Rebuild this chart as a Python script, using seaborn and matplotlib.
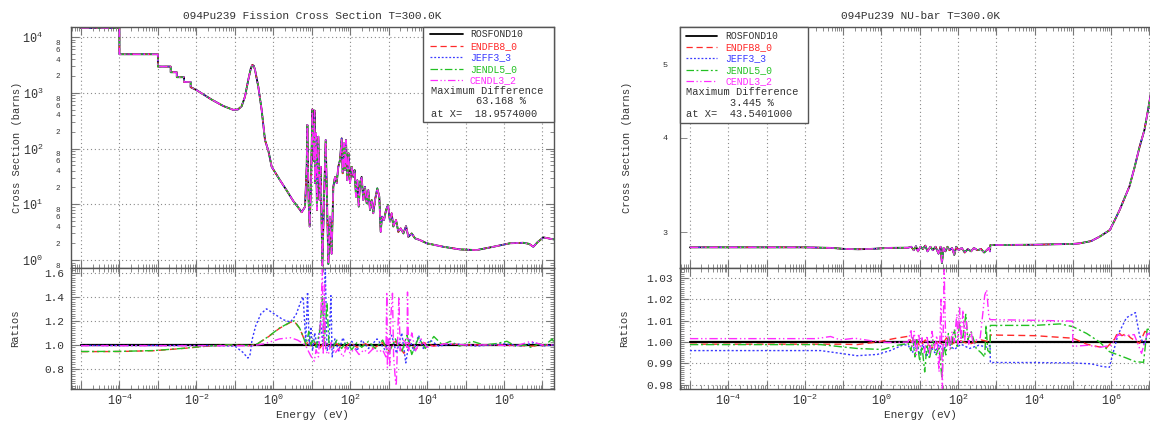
import numpy as np
import matplotlib
matplotlib.use("Agg")
import matplotlib.pyplot as plt
import seaborn as sns
from matplotlib.ticker import (LogLocator, FixedLocator, FuncFormatter,
                               MultipleLocator, NullLocator, NullFormatter, FormatStrFormatter)
from matplotlib.lines import Line2D
from matplotlib.patches import Rectangle

# ---------------- data ----------------
LIBS = ["ROSFOND10", "ENDFB8_0", "JEFF3_3", "JENDL5_0", "CENDL3_2"]
COLORS = ["#000000", "#ff2a2a", "#3a3aff", "#22c022", "#ff2aff"]
STYLES = ["-", (0, (5, 3)), (0, (1.5, 1.5)), (0, (6, 2, 1.5, 2)), (0, (6, 2, 1, 2, 1, 2))]

# Fission cross section (ROSFOND10 reference)
XS_E = [1e-5, 1e-4, 1e-4, 1e-3, 1e-3, 2.15e-3, 2.15e-3, 3.1e-3, 3.1e-3, 4.8e-3, 4.8e-3,
        7.1e-3, 7.1e-3, 1.0e-2, 2.53e-2, 5.0e-2, 9.0e-2, 0.12, 0.15, 0.184, 0.224, 0.26,
        0.285, 0.31, 0.335, 0.408, 0.5, 0.61, 0.75, 0.91, 1.5, 2.2, 3.3, 5.0, 5.48, 6.7,
        7.4, 7.7, 8.3, 8.85, 9.6, 10.4, 10.9, 11.3, 11.9, 12.2, 12.9, 13.7, 14.9, 16.1,
        17.1, 18.9, 20.9, 23.1, 25.0, 27.1, 29.9, 33.0, 36.5, 40.4, 44.6, 49.2, 54.4, 60.1,
        63.8, 69.2, 73.4, 78.0, 84.4, 91.4, 99.0, 110, 121, 131, 142, 154, 167, 180, 199,
        220, 243, 269, 297, 328, 363, 400, 442, 508, 573, 622, 673, 759, 857, 966, 1087,
        1200, 1325, 1560, 1790, 2060, 2420, 2840, 3260, 3980, 4860, 6560, 9770, 2.65e4,
        7.19e4, 1.95e5, 5.3e5, 1.44e6, 3.2e6, 4.5e6, 5.8e6, 7.5e6, 1.06e7, 1.92e7, 2.0e7]
XS_ROSFOND = [14500, 14500, 4900, 4900, 2950, 2950, 2330, 2330, 1900, 1900, 1560,
              1560, 1260, 1120, 750, 580, 495, 500, 570, 850, 1700, 2700,
              3150, 3050, 2600, 1290, 490, 142, 90, 47, 27, 18, 11.5, 7.9, 7.2, 9.0,
              47, 265, 12, 4.0, 24, 504, 120, 60, 480, 24, 187, 7.9, 163, 11.9,
              47, 0.8, 12, 142, 12, 0.85, 6.0, 1.3, 20.6, 31, 24, 47, 62, 152,
              36, 124, 41, 142, 27, 82, 24, 47, 31, 41, 13.7, 27, 9.1, 24, 31,
              11.9, 20.6, 10.4, 18, 7.9, 11.9, 6.9, 11.9, 19.3, 13.7, 3.2, 6.0, 5.2, 7.9, 9.7, 4.9,
              6.9, 4.0, 5.2, 3.2, 3.7, 3.0, 4.07, 2.6, 3.0, 2.45, 2.28, 2.0, 1.73,
              1.55, 1.51, 1.73, 2.0, 2.04, 1.95, 1.73, 2.1, 2.55, 2.35, 2.35]

# Fission ratios to ROSFOND10
REF_E = [1e-5, 2e7]
REF_RATIO = [1.0, 1.0]

FR_ENDF_E = [1e-5, 1e-4, 8e-4, 4.7e-3, 1.8e-2, 6.6e-2, 0.25, 0.39, 0.75, 1.45, 2.8, 3.5, 4.85,
             6.0, 7.1, 8.4, 9.5, 12, 16, 22, 30, 45, 70, 100, 150, 250, 400, 700, 1000, 1500,
             2500, 3500, 5000, 8000, 1.5e4, 3e4, 1e5, 1e6, 5e6, 2e7]
FR_ENDF = [0.944, 0.945, 0.952, 0.971, 0.989, 0.999, 0.994, 1.008, 1.068, 1.138, 1.188, 1.198, 1.138,
           1.068, 0.995, 1.05, 0.98, 1.02, 0.97, 1.03, 0.98, 1.01, 0.97, 1.02, 0.98, 1.01, 0.97, 1.02,
           0.95, 1.03, 0.93, 1.02, 0.96, 1.02, 0.99, 1.01, 1.0, 1.0, 0.99, 1.0]

FR_JEFF_E = [1e-5, 1e-2, 0.05, 0.1, 0.16, 0.22, 0.25, 0.28, 0.35, 0.48, 0.67, 1.04, 1.8, 2.8,
             3.9, 5.2, 6.0, 7.0, 7.8, 8.6, 9.5, 10.5, 12, 14, 17, 19.5, 22.6, 25, 28, 31.6, 34,
             40, 50, 65, 85, 110, 150, 200, 300, 500, 800, 1200, 1600, 2200, 2800, 3500, 4500,
             6000, 8000, 1.2e4, 2e4, 5e4, 2e5, 1e6, 3e6, 6e6, 1e7, 2e7]
FR_JEFF = [0.995, 0.995, 0.993, 0.99, 0.94, 0.89, 0.92, 1.04, 1.16, 1.26, 1.30, 1.26, 1.21, 1.19,
           1.25, 1.36, 1.40, 1.02, 1.44, 1.0, 1.15, 0.95, 1.1, 0.97, 1.2, 1.0, 1.63, 0.95, 1.0, 1.41, 0.90,
           1.05, 0.95, 1.06, 0.96, 1.03, 0.95, 1.04, 0.97, 1.05, 0.96, 1.08, 0.93, 1.1, 0.85, 1.05, 0.95,
           1.08, 0.97, 1.04, 0.99, 1.01, 0.99, 1.01, 0.99, 1.02, 0.99, 1.0]

FR_JENDL_E = [1e-5, 1e-4, 8e-4, 4.7e-3, 1.8e-2, 6.6e-2, 0.25, 0.39, 0.75, 1.45, 2.8, 3.5, 4.85,
              6.0, 7.1, 8.4, 9.5, 11, 13, 16, 19, 21, 25, 28, 35, 45, 60, 80, 110, 150, 200, 300,
              450, 700, 1000, 1500, 2200, 3000, 4000, 6000, 9000, 1.5e4, 2.5e4, 4e4, 7e4, 1.5e5,
              3e5, 6e5, 1.2e6, 2e6, 3.5e6, 5e6, 8e6, 1.2e7, 1.8e7, 2e7]
FR_JENDL = [0.945, 0.946, 0.953, 0.972, 0.99, 1.0, 0.995, 1.01, 1.07, 1.14, 1.19, 1.20, 1.14,
            1.07, 1.0, 1.11, 1.0, 1.05, 0.98, 1.1, 1.40, 1.0, 1.35, 1.02, 0.97, 1.04, 0.97, 1.03,
            0.96, 1.02, 0.98, 1.03, 0.97, 1.04, 0.93, 1.05, 0.94, 1.08, 0.92, 1.06, 0.97, 1.07,
            1.0, 1.03, 0.99, 1.03, 1.0, 1.01, 1.03, 0.99, 1.0, 0.98, 1.01, 1.0, 1.05, 1.02]

FR_CENDL_E = [1e-5, 0.3, 0.6, 1.45, 2.8, 4.3, 6.8, 9.4, 11.7, 13, 15, 17, 18.96, 20, 21.5, 23,
              27, 32, 40, 50, 65, 80, 100, 130, 170, 230, 300, 400, 550, 700, 850, 897, 930,
              1000, 1080, 1120, 1260, 1350, 1500, 1580, 1700, 1850, 2000, 2500, 3000, 3100,
              3300, 4000, 5000, 7000, 1e4, 3e4, 1e5, 5e5, 2e6, 5e6, 1e7, 2e7]
FR_CENDL = [0.993, 0.993, 1.01, 1.05, 1.06, 1.04, 1.0, 0.91, 0.865, 0.96, 0.9, 1.2, 1.63, 0.92, 1.5,
            0.95, 0.92, 1.02, 0.93, 0.97, 0.9, 0.98, 0.93, 0.97, 0.92, 0.96, 0.93, 0.97, 0.94, 0.96,
            0.9, 1.44, 0.81, 1.05, 0.83, 1.2, 1.43, 0.9, 0.71, 0.66, 1.0, 1.40, 0.95, 1.05, 0.98,
            1.44, 0.95, 1.1, 0.95, 1.05, 0.98, 1.01, 1.0, 1.0, 0.99, 1.03, 1.0, 1.0]

# NU-bar (ROSFOND10 reference)
NU_E = [1e-5, 0.01, 0.05, 0.1, 0.25, 0.6, 1.5, 5, 6, 7, 8, 9, 10.5, 12, 14, 16, 19, 22, 26, 31,
        35, 38, 42, 47, 53, 60, 70, 80, 90, 105, 125, 150, 180, 220, 260, 320, 400, 480, 560,
        640, 686, 700, 1e4, 1e5, 1.5e5, 3e5, 5e5, 9.2e5, 1.23e6, 1.66e6, 2.24e6, 3.0e6, 4.1e6,
        5.5e6, 7.4e6, 9.5e6, 1.4e7, 2e7]
NU_ROSFOND = [2.865, 2.865, 2.86, 2.852, 2.848, 2.852, 2.86, 2.862, 2.87, 2.84, 2.875, 2.83, 2.87,
              2.85, 2.88, 2.83, 2.87, 2.84, 2.87, 2.81, 2.87, 2.73, 2.86, 2.83, 2.87, 2.84, 2.86,
              2.80, 2.87, 2.84, 2.86, 2.82, 2.85, 2.83, 2.86, 2.84, 2.85, 2.82, 2.84, 2.86, 2.83,
              2.885, 2.888, 2.895, 2.90, 2.92, 2.96, 3.02, 3.11, 3.21, 3.33, 3.45, 3.66, 3.89,
              4.10, 4.40, 4.95, 5.55]

# NU-bar ratios to ROSFOND10
NR_ENDF_E = [1e-5, 0.1, 0.23, 0.78, 2.1, 5.0, 6.0, 8, 10, 14, 20, 30, 40, 50, 70, 100, 200, 400,
             686, 700, 1e4, 1e5, 2.3e5, 4.6e5, 7.6e5, 1.23e6, 1.5e6, 1.9e6, 2.5e6, 3.2e6, 5.5e6,
             7.6e6, 2e7]
NR_ENDF = [0.999, 0.999, 0.9988, 1.0, 1.0016, 1.0027, 1.0, 1.002, 0.998, 1.001, 0.997, 1.0, 0.999,
           1.002, 0.999, 1.001, 0.999, 1.001, 1.0, 1.0033, 1.003, 1.0018, 0.999, 0.9978, 0.9974,
           1.0014, 1.0048, 1.003, 1.004, 1.002, 0.9994, 1.005, 1.002]

NR_JEFF_E = [1e-5, 0.026, 0.23, 0.78, 1.7, 3.8, 5.0, 6.5, 8, 10, 12, 15, 19, 25, 32, 40, 55, 80,
             120, 200, 350, 600, 686, 700, 1e4, 1e5, 3e5, 6e5, 9e5, 1.0e6, 1.5e6, 2.5e6, 4.3e6,
             5.5e6, 7.4e6, 9e6, 2e7]
NR_JEFF = [0.996, 0.996, 0.9936, 0.9942, 0.996, 0.9988, 0.9985, 0.995, 1.001, 0.994, 0.999, 0.993,
           0.998, 0.995, 0.999, 0.996, 0.9995, 0.9965, 0.999, 0.997, 0.9985, 0.9975, 0.9985, 0.9904,
           0.9904, 0.9902, 0.9898, 0.9885, 0.9882, 0.9915, 1.0034, 1.0114, 1.0138, 1.003, 0.9985,
           1.0045, 1.002]

NR_JENDL_E = [1e-5, 0.026, 0.23, 1.1, 2.6, 5.0, 5.9, 6.6, 7.5, 8.5, 10, 11.5, 13.5, 15.5, 18, 22,
              27, 32, 38, 42, 48, 56, 65, 80, 95, 110, 130, 160, 180, 220, 300, 400, 500, 540,
              600, 686, 700, 1e4, 4.6e4, 1e5, 2.3e5, 5e5, 9e5, 2.5e6, 4.3e6, 7e6, 8.7e6, 2e7]
NR_JENDL = [0.9988, 0.9988, 0.997, 0.9965, 0.9985, 0.9993, 0.996, 1.002, 0.993, 1.001, 0.991,
            0.998, 0.986, 0.999, 0.992, 1.001, 0.994, 0.998, 0.983, 0.999, 0.994, 1.004, 0.997,
            1.006, 0.998, 1.009, 1.0, 1.013, 1.001, 1.005, 0.997, 0.995, 0.993, 1.008, 0.996,
            0.995, 1.0078, 1.0078, 1.0085, 1.0072, 1.004, 1.0, 0.9955, 0.9925, 0.9908, 0.9905,
            1.006, 1.006]

NR_CENDL_E = [1e-5, 0.02, 0.047, 0.085, 0.2, 0.63, 1.4, 5.0, 5.9, 6.4, 7.2, 8.1, 9.4, 10.5, 11.5,
              13.2, 15.5, 18, 21, 24, 28, 32, 36, 39, 43.5, 48, 55, 62, 70, 80, 93, 100, 110, 120,
              135, 150, 165, 190, 220, 250, 300, 380, 500, 560, 640, 686, 1e4, 9.8e4, 1.0e5,
              2.5e5, 5e5, 1.0e6, 1.5e6, 2.5e6, 4e6, 6.2e6, 8.7e6, 2e7]
NR_CENDL = [1.0016, 1.0016, 1.0026, 1.001, 1.0018, 1.0004, 0.9998, 1.0, 1.006, 0.998, 1.005, 0.994,
            1.004, 0.997, 1.002, 0.995, 1.003, 0.994, 1.005, 0.997, 1.003, 0.986, 1.02, 0.977,
            1.0345, 0.998, 1.003, 0.996, 1.005, 1.0, 1.013, 0.999, 1.016, 1.0, 1.015, 1.001, 1.01,
            0.999, 1.005, 0.999, 1.001, 1.002, 1.022, 1.0245, 1.012, 1.0105, 1.0102, 1.0098, 0.998,
            0.9985, 0.9975, 0.9985, 1.0033, 1.003, 1.0035, 0.9947, 1.004, 1.002]

TITLES = ["094Pu239 Fission Cross Section T=300.0K", "094Pu239 NU-bar T=300.0K"]
MAXDIFF = [("63.168 %", "at X=  18.9574000"), ("3.445 %", "at X=  43.5401000")]

# ---------------- style ----------------
sns.set_style("ticks")
plt.rcParams["font.family"] = ["Liberation Mono", "DejaVu Sans"]
plt.rcParams["axes.edgecolor"] = "#555555"
plt.rcParams["axes.linewidth"] = 1.0
TXT = "#333333"
GRID = dict(linestyle=(0, (1, 2.5)), color="#8a8a8a", linewidth=0.8)

fig = plt.figure(figsize=(11.5, 4.21), dpi=100)
W, H = 1150.0, 421.0

def frac(x0, y0, x1, y1):
    return [x0 / W, 1 - y1 / H, (x1 - x0) / W, (y1 - y0) / H]

axL_top = fig.add_axes(frac(71, 27, 554, 268))
axL_rat = fig.add_axes(frac(71, 268, 554, 389))
axR_top = fig.add_axes(frac(680, 27, 1161, 268))
axR_rat = fig.add_axes(frac(680, 268, 1161, 389))

def draw(ax, x, y, i, lw=None):
    sns.lineplot(x=np.asarray(x, float), y=np.asarray(y, float), ax=ax, color=COLORS[i],
                 linestyle=STYLES[i], linewidth=lw if lw else (1.3 if i == 0 else 1.0),
                 estimator=None, sort=False, legend=False)

def dec_fmt(v, pos):
    e = int(round(np.log10(v)))
    if e % 2:
        return ""
    return r"$\mathregular{10^{%d}}$" % e

def ydec_fmt(v, pos):
    e = int(round(np.log10(v)))
    return r"$\mathregular{10^{%d}}$" % e

def yminor_fmt(v, pos):
    e = np.floor(np.log10(v) + 1e-9)
    m = int(round(v / 10 ** e))
    return str(m) if m in (2, 4, 6, 8) else ""

for ax in (axL_top, axL_rat, axR_top, axR_rat):
    ax.set_xscale("log")

# top-left: fission cross sections
axL_top.set_yscale("log")
for i in range(5):
    draw(axL_top, XS_E, XS_ROSFOND, i)
# top-right: nu-bar
axR_top.set_yscale("log")
for i in range(5):
    draw(axR_top, NU_E, NU_ROSFOND, i)

# ratios
draw(axL_rat, REF_E, REF_RATIO, 0, lw=1.6)
for i, (e, r) in enumerate([(FR_ENDF_E, FR_ENDF), (FR_JEFF_E, FR_JEFF),
                            (FR_JENDL_E, FR_JENDL), (FR_CENDL_E, FR_CENDL)], start=1):
    draw(axL_rat, e, r, i)
draw(axR_rat, REF_E, REF_RATIO, 0, lw=1.6)
for i, (e, r) in enumerate([(NR_ENDF_E, NR_ENDF), (NR_JEFF_E, NR_JEFF),
                            (NR_JENDL_E, NR_JENDL), (NR_CENDL_E, NR_CENDL)], start=1):
    draw(axR_rat, e, r, i)

for ax in (axL_top, axL_rat, axR_top, axR_rat):
    ax.set_xlim(5.5e-6, 2.0e7)
    ax.xaxis.set_major_locator(LogLocator(base=10, numticks=40))
    ax.xaxis.set_minor_locator(LogLocator(base=10, subs=np.arange(2, 10), numticks=40))
    ax.xaxis.set_minor_formatter(NullFormatter())
    ax.tick_params(which="both", direction="in", top=True, right=True, colors="#777777",
                   labelcolor=TXT)
    ax.tick_params(which="major", length=6, width=0.8)
    ax.tick_params(which="minor", length=3, width=0.6)
    ax.grid(True, which="major", **GRID)
    ax.set_xlabel("")
    ax.set_ylabel("")
    for s in ax.spines.values():
        s.set_visible(True)
        s.set_color("#555555")

for ax in (axL_top, axR_top):
    ax.xaxis.set_major_formatter(NullFormatter())
for ax in (axL_rat, axR_rat):
    ax.xaxis.set_major_formatter(FuncFormatter(dec_fmt))
    ax.tick_params(axis="x", which="major", labelsize=8.5, pad=3)
    ax.set_xlabel("Energy (eV)", fontsize=8, color=TXT)
    ax.xaxis.set_label_coords(0.5, -0.17)

# y axes
axL_top.set_ylim(0.72, 15100)
axL_top.yaxis.set_major_locator(LogLocator(base=10, numticks=20))
axL_top.yaxis.set_minor_locator(LogLocator(base=10, subs=np.arange(2, 10), numticks=20))
axL_top.yaxis.set_major_formatter(FuncFormatter(ydec_fmt))
axL_top.yaxis.set_minor_formatter(FuncFormatter(yminor_fmt))
axL_top.tick_params(axis="y", which="major", labelsize=8.5, pad=20)
axL_top.tick_params(axis="y", which="minor", labelsize=5.5, pad=8)

axR_top.set_ylim(2.69, 5.61)
axR_top.yaxis.set_major_locator(NullLocator())
axR_top.yaxis.set_minor_locator(FixedLocator([3, 4, 5]))
axR_top.yaxis.set_minor_formatter(FormatStrFormatter("%d"))
axR_top.tick_params(axis="y", which="minor", labelsize=6, pad=9, length=5)

axL_rat.set_ylim(0.633, 1.64)
axL_rat.yaxis.set_major_locator(MultipleLocator(0.2))
axL_rat.yaxis.set_minor_locator(MultipleLocator(0.02))
axL_rat.yaxis.set_major_formatter(FormatStrFormatter("%.1f"))
axL_rat.tick_params(axis="y", which="major", labelsize=8, pad=5)

axR_rat.set_ylim(0.978, 1.0347)
axR_rat.yaxis.set_major_locator(MultipleLocator(0.01))
axR_rat.yaxis.set_minor_locator(MultipleLocator(0.001))
axR_rat.yaxis.set_major_formatter(FormatStrFormatter("%.2f"))
axR_rat.tick_params(axis="y", which="major", labelsize=8, pad=5)

for ax, x in ((axL_top, -0.101), (axR_top, -0.10)):
    ax.set_ylabel("Cross Section (barns)", fontsize=7.5, color=TXT)
    ax.yaxis.set_label_coords(x, 0.5)
for ax, x in ((axL_rat, -0.105), (axR_rat, -0.106)):
    ax.set_ylabel("Ratios", fontsize=7.5, color=TXT)
    ax.yaxis.set_label_coords(x, 0.5)

axL_top.set_title(TITLES[0], fontsize=8, color=TXT, pad=6)
axR_top.set_title(TITLES[1], fontsize=8, color=TXT, pad=6)

# legends (box with line keys, coloured labels and max-difference text)
def legend_box(ax, x0, y0, w, h, rows, key_x, lab_x, md_x, pct_x, md):
    ax.add_patch(Rectangle((x0, y0), w, h, transform=ax.transAxes, facecolor="white",
                           edgecolor="#555555", linewidth=1.0, zorder=10, clip_on=False))
    for i in range(5):
        y = rows[i]
        ax.add_line(Line2D(key_x, [y, y], transform=ax.transAxes, color=COLORS[i],
                           linestyle=STYLES[i], linewidth=1.3 if i == 0 else 0.9, zorder=11))
        ax.text(lab_x, y, LIBS[i], transform=ax.transAxes, color=COLORS[i] if i else "#333333",
                fontsize=7, va="center", ha="left", zorder=11)
    ax.text(md_x, rows[5], "Maximum Difference", transform=ax.transAxes, color=TXT,
            fontsize=7.5, va="center", ha="left", zorder=11)
    ax.text(pct_x, rows[6], md[0], transform=ax.transAxes, color=TXT,
            fontsize=7.5, va="center", ha="left", zorder=11)
    ax.text(md_x, rows[7], md[1], transform=ax.transAxes, color=TXT,
            fontsize=7.5, va="center", ha="left", zorder=11)

legend_box(axL_top, 0.729, 0.606, 0.271, 0.394,
           [0.971, 0.921, 0.874, 0.827, 0.780, 0.734, 0.693, 0.641],
           [0.743, 0.812], 0.826, 0.745, 0.838, MAXDIFF[0])
legend_box(axR_top, 0.0, 0.602, 0.266, 0.398,
           [0.963, 0.917, 0.871, 0.822, 0.776, 0.730, 0.685, 0.639],
           [0.012, 0.077], 0.094, 0.012, 0.104, MAXDIFF[1])

fig.savefig("out.png", dpi=100)
